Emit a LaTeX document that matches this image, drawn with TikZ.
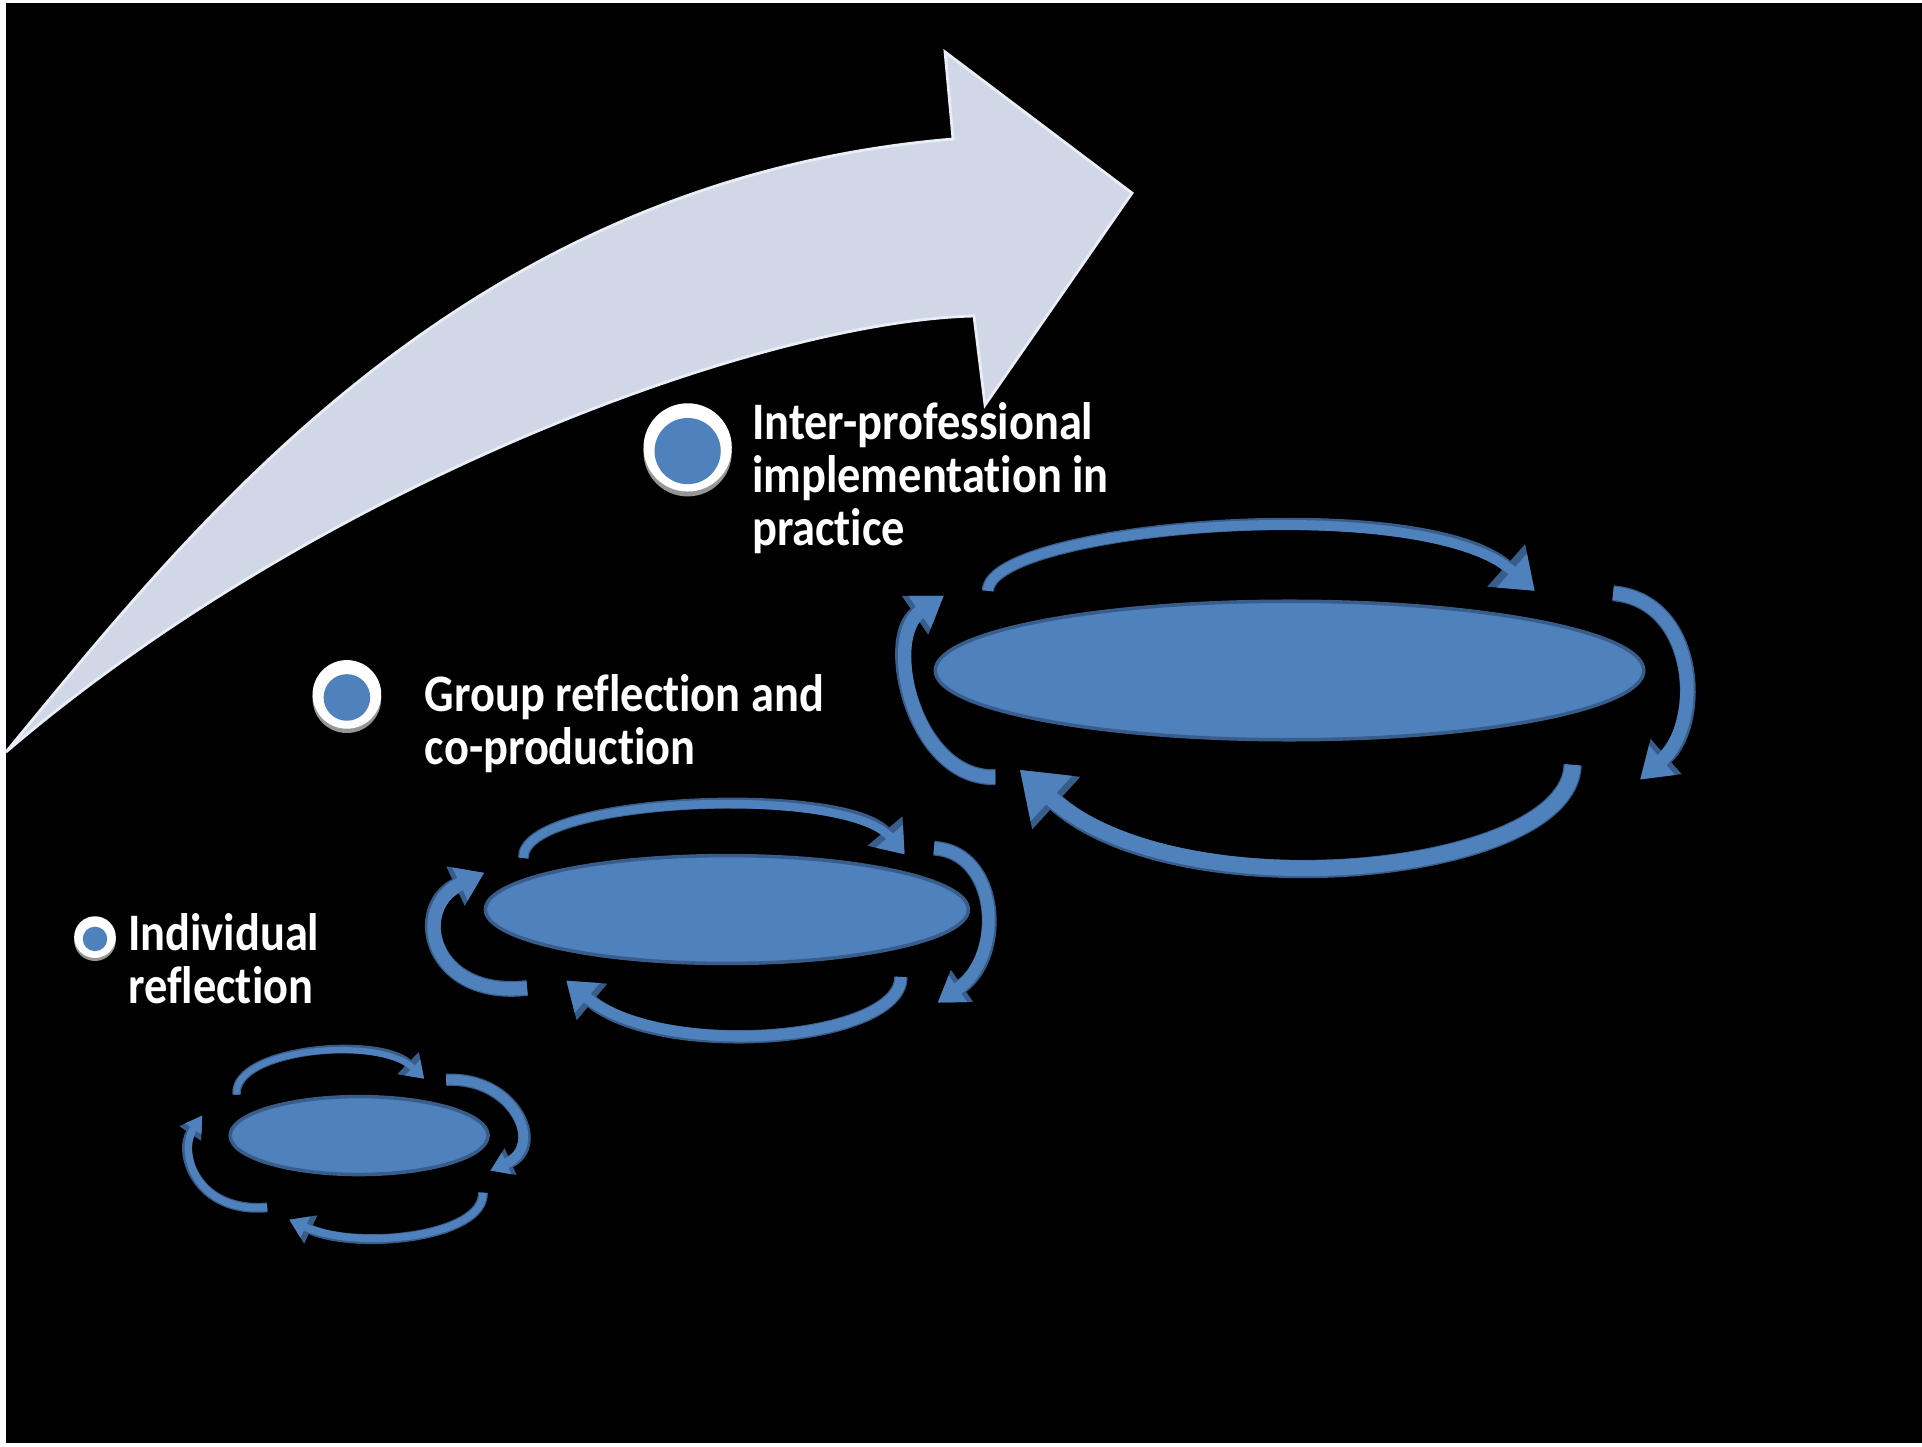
\documentclass[tikz,border=0pt]{standalone}
\usepackage{fontspec}
\setmainfont{Carlito}[FakeStretch=0.88, Ligatures=NoCommon]
\usetikzlibrary{arrows.meta}

\definecolor{cycblue}{RGB}{79,129,189}
\definecolor{cycdark}{RGB}{56,93,138}
\definecolor{bigarrow}{RGB}{208,216,232}
\definecolor{bulletshade}{RGB}{150,150,150}

% one circular arrow: band width, tip length factor, tip width factor, path
\newcommand{\cycarrow}[4]{%
  \draw [cycdark, line width=#1+0.7pt, -{Triangle[length=0pt #2, width=0pt #3]}] #4;
  \draw [cycblue, line width=#1, -{Triangle[length=0pt #2, width=0pt #3]}] #4;
}

\begin{document}
\begin{tikzpicture}[x=0.012258cm, y=-0.012258cm]
\tikzstyle{every node}+=[inner sep=0pt]
\tikzstyle{txt}=[text=white, font=\fontsize{15}{15.1}\selectfont\bfseries, align=left, anchor=base west]
\tikzstyle{oval}=[fill=cycblue, draw=cycdark, line width=1pt]
\useasboundingbox (0,0) rectangle (1568,1180.4);
\fill [white] (0,0) rectangle (1568,1180.4);
\fill [black] (4.9,2.4) rectangle (1568,1177.2);
% big rising arrow
\fill [bigarrow, draw=white!55!bigarrow, line width=0.8pt] (4.9,613.5) .. controls (155,432) and (375,147) .. (777.5,113.4)
  -- (771,42.4) -- (923.5,157.5) -- (803.6,330.4) -- (794.6,257.8)
  .. controls (620,262) and (260,395) .. (4.9,613.5) -- cycle;
% bullets
\fill [bulletshade] (561,369) circle (36);
\fill [white] (561,365) circle (36);
\fill [cycblue] (561,368) circle (27);
\fill [bulletshade] (283,570) circle (28);
\fill [white] (283,566.5) circle (28);
\fill [cycblue] (283,569) circle (19);
\fill [bulletshade] (77.5,767) circle (17);
\fill [white] (77.5,764.5) circle (17);
\fill [cycblue] (77.5,766) circle (10);
% labels (base = last line)
\node [txt] (practice) at (613,445.4) {Inter-professional\\implementation in\\practice};
\node [txt] (group) at (346,624) {Group reflection and\\co-production};
\node [txt] (indiv) at (104,819) {Individual\\reflection};
% ovals
\draw [oval] (1052,547) ellipse [x radius=289, y radius=56.5];
\draw [oval] (593,742) ellipse [x radius=197, y radius=44];
\draw [oval] (293,926.4) ellipse [x radius=105.2, y radius=31.8];
% cycle round the large oval
\cycarrow{2.8pt}{3.1}{4.4}{(806,482) .. controls (806,430) and (1160,400) .. (1252,482)}
\cycarrow{3.8pt}{2.2}{2.8}{(1316,484) .. controls (1385,490) and (1390,590) .. (1338,636)}
\cycarrow{4.5pt}{2.7}{3.7}{(1283,624) .. controls (1280,715) and (960,745) .. (832,628)}
\cycarrow{3.8pt}{2.2}{2.8}{(812,634) .. controls (745,636) and (720,520) .. (770,486)}
% cycle round the middle oval
\cycarrow{2.4pt}{2.8}{4.0}{(427,700) .. controls (425,650) and (690,640) .. (738,697)}
\cycarrow{3.5pt}{2.0}{2.5}{(762,692) .. controls (815,695) and (820,780) .. (765,818)}
\cycarrow{3.1pt}{2.5}{3.4}{(735,797) .. controls (735,850) and (540,865) .. (462,800)}
\cycarrow{3.8pt}{2.0}{2.6}{(430,806) .. controls (350,815) and (335,740) .. (395,712)}
% cycle round the small oval
\cycarrow{1.75pt}{2.6}{3.4}{(193,893) .. controls (190,855) and (310,845) .. (346,880)}
\cycarrow{2.8pt}{1.8}{2.25}{(364,881) .. controls (420,878) and (445,935) .. (400,955)}
\cycarrow{2.1pt}{2.4}{3.0}{(394,973) .. controls (395,1010) and (290,1020) .. (236,995)}
\cycarrow{2.1pt}{2.2}{2.5}{(218,985) .. controls (160,990) and (145,940) .. (165,910)}
\end{tikzpicture}
\end{document}
